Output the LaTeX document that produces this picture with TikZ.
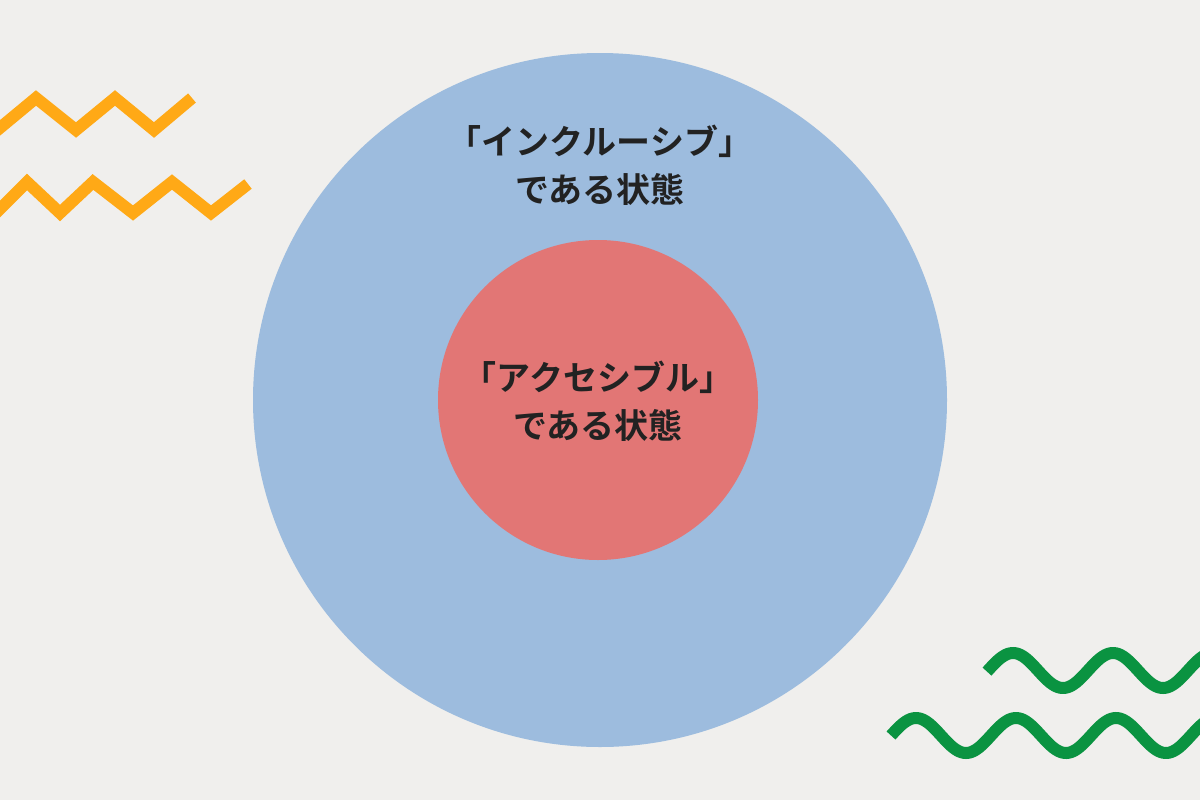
\documentclass[tikz,border=0pt]{standalone}
\usepackage{fontspec}
\newfontfamily\jp{Noto Sans CJK JP}[BoldFont={* Bold}]
\definecolor{bg}{HTML}{F0EFED}
\definecolor{org}{HTML}{FFA916}
\definecolor{grn}{HTML}{0A9341}
\definecolor{blu}{HTML}{9DBCDE}
\definecolor{rd}{HTML}{E27675}
\definecolor{txt}{HTML}{222222}
\begin{document}
\begin{tikzpicture}[x=0.75pt,y=-0.75pt,
  lbl/.style={text=txt,font=\jp\bfseries\fontsize{25.5}{36}\selectfont,align=center},
  zig/.style={draw=org,line width=9pt,line join=miter},
  wav/.style={draw=grn,line width=9pt}]
\fill[bg] (0,0) rectangle (1200,800);
\useasboundingbox (0,0) rectangle (1200,800);
\fill[blu] (600,400) circle (347);
\fill[rd] (598,400) circle (160);
\draw[zig] (-5,132) -- (36,98) -- (76,130) -- (115,98) -- (154,130) -- (192,98);
\draw[zig] (-5,214) -- (27,182) -- (60,213) -- (93,182) -- (133,213) -- (172,182) -- (211,213) -- (248,184);
\begin{scope}
\clip (0,0) rectangle (1200,800);
\draw[wav] plot[domain=987:1210,samples=120] (\x,{670.5-17.5*cos(3.6*(\x-1013))});
\draw[wav] plot[domain=891:1210,samples=150] (\x,{735.5-17.5*cos(3.6*(\x-916))});
\end{scope}
\node[lbl] (outer) at (600,165) {「インクルーシブ」\\である状態};
\node[lbl] (inner) at (598,401) {「アクセシブル」\\である状態};
\end{tikzpicture}
\end{document}
